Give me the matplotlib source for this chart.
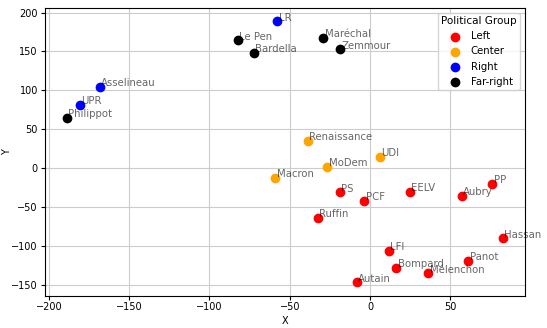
import matplotlib.pyplot as plt

# Points
names = ["Philippot", "UPR", "Asselineau", "Le Pen", "Bardella", "LR", "Maréchal", "Zemmour",
         "Renaissance", "UDI", "MoDem", "Macron",
         "PS", "PCF", "EELV", "Aubry", "PP", "Ruffin", "Hassan", "LFI", "Panot",
         "Bompard", "Mélenchon", "Autain"]
x_vals = [-188.9, -180.6, -168.1, -82.4, -72.2, -57.7, -29.1, -18.7,
          -38.8, 6.0, -26.6, -59.0,
          -18.7, -3.5, 24.9, 57.3, 76.2, -32.6, 82.6, 11.6, 61.2,
          16.4, 36.3, -8.1]
y_vals = [64.9, 81.2, 104.6, 164.1, 148.2, 188.8, 167.4, 152.6,
          35.4, 14.9, 2.1, -12.4,
          -30.8, -41.9, -30.4, -35.1, -19.7, -63.3, -90.2, -106.0, -118.8,
          -127.8, -135.1, -146.7]
groups = ["Far-right", "Right", "Right", "Far-right", "Far-right", "Right", "Far-right", "Far-right",
          "Center", "Center", "Center", "Center",
          "Left", "Left", "Left", "Left", "Left", "Left", "Left", "Left", "Left",
          "Left", "Left", "Left"]

group_order = ["Left", "Center", "Right", "Far-right"]
group_colors = {"Left": "red", "Center": "orange", "Right": "blue", "Far-right": "black"}

plt.rcParams['font.size'] = 7

fig, ax = plt.subplots(figsize=(5.47, 3.28), dpi=100)
fig.subplots_adjust(left=0.082, right=0.959, top=0.975, bottom=0.099)

for g in group_order:
    xs = [x for x, gg in zip(x_vals, groups) if gg == g]
    ys = [y for y, gg in zip(y_vals, groups) if gg == g]
    ax.scatter(xs, ys, color=group_colors[g], s=36, label=g, zorder=3)

for n, x, y in zip(names, x_vals, y_vals):
    ax.text(x + 0.8, y + 0.8, n, fontsize=7.3, color="black", alpha=0.6, zorder=4)

ax.set_xlabel("X", labelpad=2.5)
ax.set_ylabel("Y")
ax.yaxis.set_label_coords(-0.068, 0.5)
ax.tick_params(length=2.6, pad=2.4)
ax.grid(True, color="#cccccc", linewidth=0.8)
ax.set_axisbelow(True)
ax.legend(title="Political Group", loc="upper right", fontsize=7.3, title_fontsize=7.5,
          borderpad=0.3, handletextpad=0.6)

plt.savefig("out.png", dpi=100)
